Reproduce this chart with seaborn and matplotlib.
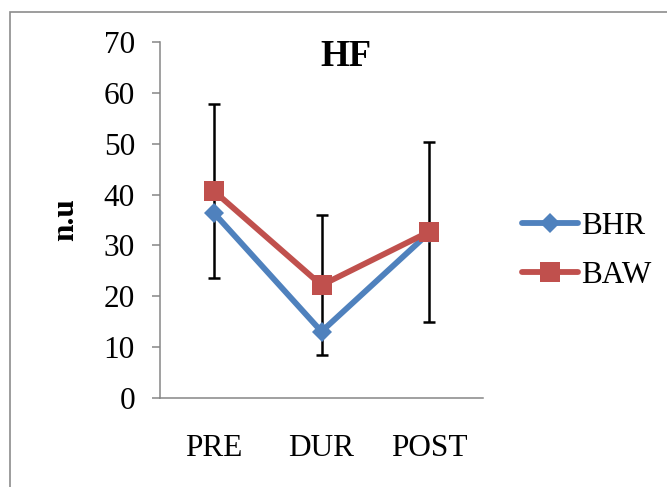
import matplotlib
matplotlib.use("Agg")
import matplotlib.pyplot as plt
import seaborn as sns
import pandas as pd
from matplotlib.patches import Rectangle

categories = ["PRE", "DUR", "POST"]
bhr = [36.4, 13.1, 32.5]
baw = [40.7, 22.2, 32.7]
baw_err = [17.1, 13.7, 17.7]
y_ticks = [0, 10, 20, 30, 40, 50, 60, 70]

sns.set_theme(style="white")
plt.rcParams["font.family"] = ["Liberation Serif", "DejaVu Serif"]
plt.rcParams["text.color"] = "black"
plt.rcParams["xtick.labelcolor"] = "black"
plt.rcParams["ytick.labelcolor"] = "black"

BLUE = "#4F81BD"
RED = "#C0504D"
GRAY = "#868686"

fig = plt.figure(figsize=(6.67, 4.87), dpi=100)
W, H = 667, 487
ax = fig.add_axes([160 / W, 1 - 398.3 / H, (483 - 160) / W, (398.3 - 41.7) / H])

df_bhr = pd.DataFrame({"phase": categories, "value": bhr, "group": "BHR"})
df_baw = pd.DataFrame({"phase": categories, "value": baw, "group": "BAW"})
pos = {c: i for i, c in enumerate(categories)}
df_bhr["x"] = df_bhr["phase"].map(pos)
df_baw["x"] = df_baw["phase"].map(pos)

# error bars (below markers)
ax.errorbar(df_baw["x"], df_baw["value"], yerr=baw_err, fmt="none",
            ecolor="black", elinewidth=1.8, capsize=4.3, capthick=1.8, zorder=2)

sns.lineplot(data=df_bhr, x="x", y="value", ax=ax, color=BLUE, lw=4.2,
             marker="D", markersize=10, markeredgewidth=0, label="BHR",
             zorder=3, legend=False)
sns.lineplot(data=df_baw, x="x", y="value", ax=ax, color=RED, lw=4.2,
             marker="s", markersize=14, markeredgewidth=0, label="BAW",
             zorder=4, legend=False)

ax.set_xlim(-0.5, 2.5)
ax.set_ylim(0, 70)
ax.set_yticks(y_ticks)
ax.set_yticklabels([str(v) for v in y_ticks], fontsize=22.5, color="black")
ax.set_xticks(range(len(categories)))
ax.set_xticklabels(categories, fontsize=22.5, color="black")
ax.set_xticks([-0.5, 0.5, 1.5, 2.5], minor=True)
ax.tick_params(axis="x", which="major", length=0, pad=26)
ax.tick_params(axis="x", which="minor", length=6, width=1.1, color=GRAY, direction="out")
ax.tick_params(axis="y", which="major", length=6, width=1.1, color=GRAY, direction="out", pad=12, left=True)
ax.set_xlabel("")
ax.set_ylabel("")
for s in ["top", "right"]:
    ax.spines[s].set_visible(False)
for s in ["left", "bottom"]:
    ax.spines[s].set_color(GRAY)
    ax.spines[s].set_linewidth(1.1)
ax.grid(False)

fig.text(346 / W, 1 - 66 / H, "HF", fontsize=26.5, fontweight="bold",
         ha="center", va="baseline", color="black")
fig.text(66 / W, 1 - 220 / H, "n.u", fontsize=22.5, fontweight="bold",
         rotation=90, ha="center", va="center", color="black")

leg = fig.legend(loc="center left", bbox_to_anchor=(522 / W, 1 - 251 / H),
                 frameon=False, fontsize=22.5, borderpad=0, borderaxespad=0,
                 handlelength=1.8, handletextpad=0.1, labelspacing=0.65)
for t in leg.get_texts():
    t.set_color("black")

fig.add_artist(Rectangle((10 / W, -0.1), 1.2, 1 - 12 / H + 0.1,
                         transform=fig.transFigure, fill=False,
                         edgecolor="#8c8c8c", lw=1.2))

fig.savefig("out.png", dpi=100)
